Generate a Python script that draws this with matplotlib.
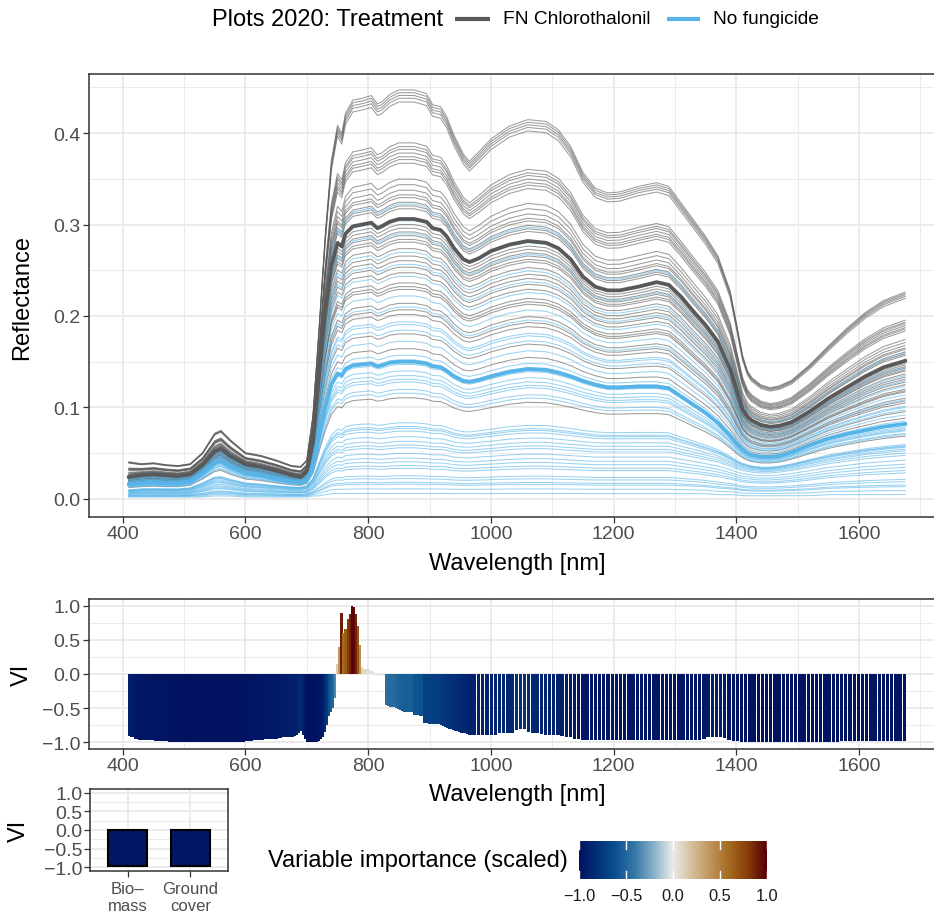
import numpy as np
import matplotlib
matplotlib.use("Agg")
import matplotlib.pyplot as plt
from matplotlib.colors import LinearSegmentedColormap, Normalize
from matplotlib.lines import Line2D
from matplotlib.ticker import MultipleLocator, FixedLocator

plt.rcParams['font.family'] = ['Liberation Sans', 'DejaVu Sans']

# ---------------------------------------------------------------- data
# Wavelength knots [nm] of the reflectance spectra
wavelength_nm = [
    410, 430, 450, 470, 490, 510, 530, 550, 560, 575, 600, 625, 650, 675, 690,
    700, 710, 720, 730, 740, 750, 757, 763, 775, 790, 805,
    815, 822, 835, 850, 875, 895, 905, 918, 928, 940, 955, 965, 980,
    1000, 1030, 1060, 1090, 1110, 1130, 1150, 1170, 1190, 1210, 1240, 1270, 1290,
    1310, 1330, 1350, 1370, 1390, 1400, 1410, 1418, 1425, 1440, 1455, 1470, 1490,
    1520, 1550, 1580, 1610, 1640, 1675,
]

# Brightest plot spectrum (NIR plateau ~0.435)
spec_top = [
    0.040, 0.038, 0.039, 0.037, 0.036, 0.038, 0.050, 0.071, 0.074, 0.064, 0.050, 0.047, 0.042, 0.036, 0.035,
    0.042, 0.090, 0.185, 0.285, 0.365, 0.403, 0.394, 0.416, 0.430, 0.432, 0.435,
    0.426, 0.428, 0.436, 0.441, 0.441, 0.437, 0.425, 0.423, 0.412, 0.392, 0.372, 0.364, 0.374,
    0.388, 0.402, 0.409, 0.407, 0.398, 0.380, 0.352, 0.335, 0.330, 0.331, 0.337, 0.341, 0.337,
    0.319, 0.301, 0.283, 0.262, 0.224, 0.190, 0.155, 0.138, 0.131, 0.123, 0.120, 0.122, 0.128,
    0.145, 0.165, 0.184, 0.201, 0.214, 0.223,
]
# Treatment mean: FN Chlorothalonil
mean_fn = [
    0.024, 0.026, 0.027, 0.026, 0.025, 0.027, 0.037, 0.052, 0.055, 0.047, 0.038, 0.035, 0.031, 0.026, 0.024,
    0.030, 0.062, 0.135, 0.205, 0.255, 0.280, 0.276, 0.290, 0.298, 0.300, 0.302,
    0.296, 0.298, 0.303, 0.306, 0.306, 0.303, 0.296, 0.294, 0.287, 0.274, 0.262, 0.259, 0.263,
    0.271, 0.278, 0.282, 0.280, 0.274, 0.262, 0.243, 0.232, 0.228, 0.228, 0.232, 0.237, 0.234,
    0.221, 0.205, 0.190, 0.172, 0.142, 0.120, 0.098, 0.090, 0.086, 0.081, 0.079, 0.080, 0.084,
    0.096, 0.110, 0.122, 0.134, 0.144, 0.151,
]
# Treatment mean: No fungicide
mean_nofung = [
    0.016, 0.017, 0.018, 0.017, 0.017, 0.019, 0.028, 0.039, 0.041, 0.035, 0.028, 0.026, 0.022, 0.019, 0.018,
    0.021, 0.036, 0.070, 0.100, 0.125, 0.137, 0.135, 0.142, 0.146, 0.147, 0.148,
    0.145, 0.146, 0.149, 0.150, 0.150, 0.148, 0.145, 0.144, 0.140, 0.134, 0.129, 0.128, 0.130,
    0.134, 0.139, 0.142, 0.141, 0.138, 0.134, 0.129, 0.125, 0.122, 0.122, 0.123, 0.123, 0.121,
    0.112, 0.103, 0.094, 0.083, 0.069, 0.061, 0.054, 0.050, 0.048, 0.046, 0.046, 0.047, 0.051,
    0.059, 0.066, 0.071, 0.075, 0.079, 0.082,
]
# Sparse canopy plot spectrum (NIR ~0.06)
spec_low = [
    0.008, 0.009, 0.009, 0.009, 0.009, 0.010, 0.014, 0.019, 0.019, 0.017, 0.014, 0.013, 0.012, 0.011, 0.011,
    0.012, 0.018, 0.030, 0.042, 0.051, 0.056, 0.055, 0.058, 0.059, 0.060, 0.060,
    0.059, 0.059, 0.060, 0.061, 0.061, 0.060, 0.059, 0.059, 0.058, 0.056, 0.055, 0.055, 0.056,
    0.057, 0.059, 0.060, 0.060, 0.059, 0.058, 0.057, 0.056, 0.056, 0.056, 0.056, 0.056, 0.056,
    0.053, 0.050, 0.047, 0.044, 0.039, 0.036, 0.034, 0.033, 0.032, 0.031, 0.031, 0.032, 0.034,
    0.038, 0.042, 0.045, 0.048, 0.050, 0.052,
]
# Darkest plot spectrum
spec_floor = [
    0.002, 0.002, 0.002, 0.002, 0.002, 0.002, 0.002, 0.003, 0.003, 0.003, 0.002, 0.002, 0.002, 0.002, 0.002,
    0.002, 0.003, 0.003, 0.004, 0.005, 0.005, 0.005, 0.005, 0.005, 0.005, 0.005,
    0.005, 0.005, 0.005, 0.005, 0.005, 0.005, 0.005, 0.005, 0.005, 0.005, 0.005, 0.005, 0.005,
    0.005, 0.005, 0.005, 0.005, 0.005, 0.005, 0.005, 0.005, 0.005, 0.005, 0.005, 0.005, 0.005,
    0.005, 0.005, 0.005, 0.004, 0.004, 0.004, 0.003, 0.003, 0.003, 0.003, 0.003, 0.003, 0.003,
    0.003, 0.004, 0.004, 0.004, 0.004, 0.004,
]

# Reflectance of each individual plot at 805 nm
fn_plot_nir = [
    0.441, 0.438, 0.435, 0.432, 0.428, 0.384, 0.380, 0.377, 0.373, 0.369, 0.366, 0.362,
    0.345, 0.339, 0.333, 0.328, 0.325, 0.320, 0.316, 0.313, 0.296, 0.292, 0.288, 0.284,
    0.280, 0.277, 0.270, 0.262, 0.257, 0.250, 0.244, 0.233, 0.229, 0.226, 0.211, 0.204,
    0.199, 0.178, 0.162, 0.109,
]
nofung_plot_nir = [
    0.318, 0.300, 0.286, 0.266, 0.253, 0.240, 0.219, 0.207, 0.191, 0.188, 0.182, 0.170,
    0.155, 0.150, 0.145, 0.138, 0.133, 0.129, 0.126, 0.118, 0.114, 0.082, 0.078, 0.076,
    0.073, 0.067, 0.062, 0.058, 0.055, 0.049, 0.044, 0.040, 0.036, 0.033, 0.025, 0.022,
    0.018, 0.016, 0.011, 0.006,
]

# Variable importance (scaled) per band: VNIR sensor bands
vnir_band_nm = 410 + 3.3 * np.arange(172)
vi_vnir = (
    [-0.91, -0.92, -0.93, -0.95]
    + [-0.96, -0.97, -0.97, -0.97, -0.97, -0.97, -0.97, -0.97, -0.97, -0.98,
       -0.98, -0.98, -0.98, -0.98, -0.98, -0.98, -0.99, -0.99, -0.99]
    + [-1.00] * 33
    + [-0.99, -0.99, -0.98, -0.98, -0.98, -0.98, -0.97, -0.97, -0.97, -0.97,
       -0.97, -0.96, -0.96, -0.96, -0.96, -0.96, -0.95, -0.95, -0.94, -0.94]
    + [-0.93, -0.93, -0.93, -0.92, -0.92, -0.92, -0.91, -0.90, -0.87]
    + [-0.84, -0.90, -0.96]
    + [-0.99, -1.00, -1.00, -1.00, -1.00, -0.99, -0.98]
    + [-0.96, -0.92, -0.85, -0.75, -0.62, -0.55, -0.50, -0.35]
    + [0.15, 0.39, 0.90, 0.60, 0.66, 0.80, 0.88, 1.00, 0.98, 0.88, 0.71, 0.43]
    + [0.10, 0.08, 0.08, 0.07, 0.06, 0.05, 0.03, -0.02, -0.02, -0.03, -0.02, -0.03]
    + [-0.46, -0.47, -0.48, -0.48, -0.48, -0.50, -0.52, -0.53, -0.54]
    + [-0.55] * 5
    + [-0.60, -0.60, -0.60, -0.61, -0.62]
    + [-0.72, -0.72, -0.73, -0.73, -0.73, -0.73, -0.74, -0.74, -0.75, -0.76]
    + [-0.78, -0.79, -0.80, -0.81, -0.82, -0.83, -0.84]
    + [-0.85, -0.86, -0.87, -0.87, -0.88, -0.89, -0.90, -0.90, -0.90]
)
# SWIR sensor bands
swir_band_nm = 980 + 6.8 * np.arange(103)
vi_swir = (
    [-0.90, -0.90, -0.90, -0.90, -0.89]
    + [-0.87, -0.87, -0.87, -0.86]
    + [-0.82, -0.80, -0.80]
    + [-0.85, -0.86, -0.86, -0.88]
    + [-0.89, -0.89, -0.89, -0.90]
    + [-0.91, -0.92, -0.93, -0.95, -0.96]
    + [-0.97] * 29
    + [-0.95, -0.93, -0.92, -0.92, -0.92, -0.94]
    + [-0.97, -0.98, -0.98, -0.99]
    + [-1.00] * 11
    + [-0.99] * 12
    + [-0.98] * 16
)

# Variable importance of the ground-truth traits
trait_labels = ["Bio\u2013\nmass", "Ground\ncover"]
trait_vi = [-0.97, -0.97]

treatments = ["FN Chlorothalonil", "No fungicide"]
treatment_colors = ["#595959", "#56B4E9"]

# ---------------------------------------------------------------- helpers
W, H = 934, 920
fig = plt.figure(figsize=(W / 100, H / 100), dpi=100)


def axes_px(left, top, right, bottom):
    return fig.add_axes([left / W, 1 - bottom / H, (right - left) / W, (bottom - top) / H])


def theme_bw(ax):
    ax.set_facecolor("white")
    for s in ax.spines.values():
        s.set_color("#333333")
        s.set_linewidth(1.1)
    ax.grid(which="major", color="#EBEBEB", lw=1.4)
    ax.grid(which="minor", color="#EBEBEB", lw=0.7)
    ax.set_axisbelow(True)
    ax.tick_params(which="major", length=4, width=0.9, color="#333333",
                   labelcolor="#4D4D4D", labelsize=14, pad=2)
    ax.tick_params(which="minor", length=0)


vik = LinearSegmentedColormap.from_list("vik", [
    "#011261", "#03337A", "#0D5491", "#387AA8", "#8CB3CA", "#EAECE8",
    "#D6BF9F", "#BF945A", "#A66B21", "#873D08", "#590008"])
vi_norm = Normalize(-1, 1)

ref_levels = [0.005, 0.060, 0.148, 0.302, 0.435]
ref_specs = [np.array(s) for s in (spec_floor, spec_low, mean_nofung, mean_fn, spec_top)]


def plot_spectrum(level):
    """Spectrum of a plot with the given NIR reflectance, shaped after the
    two neighbouring reference spectra."""
    if level >= ref_levels[-1]:
        return ref_specs[-1] * level / ref_levels[-1]
    k = max(np.searchsorted(ref_levels, level) - 1, 0)
    t = (level - ref_levels[k]) / (ref_levels[k + 1] - ref_levels[k])
    return (1 - t) * ref_specs[k] + t * ref_specs[k + 1]


XLIM = (345, 1740)
wl = np.array(wavelength_nm)
XMAJ = [400, 600, 800, 1000, 1200, 1400, 1600]
XMIN = [500, 700, 900, 1100, 1300, 1500, 1700]
signed = plt.FuncFormatter(lambda v, p: f"{v:.1f}".replace("-", "\u2212"))

# ---------------------------------------------------------------- spectra
ax1 = axes_px(89, 75, 945, 518)
theme_bw(ax1)
for lev in fn_plot_nir:
    ax1.plot(wl, plot_spectrum(lev), color=treatment_colors[0], lw=0.75, alpha=0.6)
for lev in nofung_plot_nir:
    ax1.plot(wl, plot_spectrum(lev), color=treatment_colors[1], lw=0.75, alpha=0.6)
ax1.plot(wl, mean_fn, color=treatment_colors[0], lw=2.7, solid_joinstyle="round")
ax1.plot(wl, mean_nofung, color=treatment_colors[1], lw=2.7, solid_joinstyle="round")
ax1.set_xlim(*XLIM)
ax1.set_ylim(-0.0197, 0.4645)
ax1.xaxis.set_major_locator(FixedLocator(XMAJ))
ax1.xaxis.set_minor_locator(FixedLocator(XMIN))
ax1.yaxis.set_major_locator(MultipleLocator(0.1))
ax1.yaxis.set_minor_locator(MultipleLocator(0.05))
ax1.yaxis.set_major_formatter(signed)

fig.text(22 / W, 1 - 297 / H, "Reflectance", rotation=90, ha="center", va="center", size=17)
fig.text(517 / W, 1 - 564 / H, "Wavelength [nm]", ha="center", va="center", size=17)

# ---------------------------------------------------------------- legend on top
ly = 1 - 20 / H
fig.text(212 / W, ly, "Plots 2020: Treatment", ha="left", va="center", size=17)
for (x0, x1, xt), name, col in zip([(455, 490, 503), (667, 700, 713)], treatments, treatment_colors):
    fig.add_artist(Line2D([x0 / W, x1 / W], [ly, ly], transform=fig.transFigure,
                          color=col, lw=3.0, solid_capstyle="butt"))
    fig.text(xt / W, ly, name, ha="left", va="center", size=13.8)

# ---------------------------------------------------------------- VI per band
ax2 = axes_px(89, 600, 945, 750)
theme_bw(ax2)
ax2.bar(vnir_band_nm, vi_vnir, width=3.45, color=vik(vi_norm(np.array(vi_vnir))), lw=0)
ax2.bar(swir_band_nm, vi_swir, width=5.4, color=vik(vi_norm(np.array(vi_swir))), lw=0)
ax2.set_xlim(*XLIM)
ax2.set_ylim(-1.1, 1.1)
ax2.xaxis.set_major_locator(FixedLocator(XMAJ))
ax2.xaxis.set_minor_locator(FixedLocator(XMIN))
ax2.yaxis.set_major_locator(MultipleLocator(0.5))
ax2.yaxis.set_minor_locator(MultipleLocator(0.25))
ax2.yaxis.set_major_formatter(signed)

fig.text(22 / W, 1 - 675 / H, "VI", rotation=90, ha="center", va="center", size=17)
fig.text(517 / W, 1 - 795 / H, "Wavelength [nm]", ha="center", va="center", size=17)

# ---------------------------------------------------------------- VI of traits
ax3 = axes_px(90, 790, 228, 872)
theme_bw(ax3)
xpos = np.arange(1, len(trait_labels) + 1)
ax3.bar(xpos, trait_vi, width=0.62, color=vik(vi_norm(np.array(trait_vi))),
        edgecolor="black", lw=1.5)
ax3.set_xlim(0.4, 2.6)
ax3.set_ylim(-1.108, 1.108)
ax3.set_xticks(xpos)
ax3.set_xticklabels(trait_labels, size=12, linespacing=1.15)
ax3.tick_params(axis="x", pad=3)
ax3.yaxis.set_major_locator(MultipleLocator(0.5))
ax3.yaxis.set_minor_locator(MultipleLocator(0.25))
ax3.yaxis.set_major_formatter(signed)
ax3.tick_params(axis="y", labelsize=14, pad=1.5)
fig.text(19 / W, 1 - 831 / H, "VI", rotation=90, ha="center", va="center", size=17)

# ---------------------------------------------------------------- colour bar
cax = axes_px(579, 842, 767, 880)
grad = np.linspace(-1, 1, 400).reshape(1, -1)
cax.imshow(grad, cmap=vik, norm=vi_norm, aspect="auto", extent=(-1, 1, 0, 1))
cax.set_xlim(-1, 1)
cax.set_ylim(0, 1)
cax.axis("off")
for v in [-1, -0.5, 0, 0.5, 1]:
    cax.plot([v, v], [0, 0.2], color="white", lw=1.0, clip_on=False)
    cax.plot([v, v], [0.8, 1], color="white", lw=1.0, clip_on=False)
    xp = 579 + (v + 1) / 2 * (767 - 579)
    fig.text(xp / W, 1 - 897 / H, f"{v:.1f}".replace("-", "\u2212"),
             ha="center", va="center", size=11.8, color="#1A1A1A")
fig.text(268 / W, 1 - 861 / H, "Variable importance (scaled)", ha="left", va="center", size=17)

fig.savefig("out.png", dpi=100)
